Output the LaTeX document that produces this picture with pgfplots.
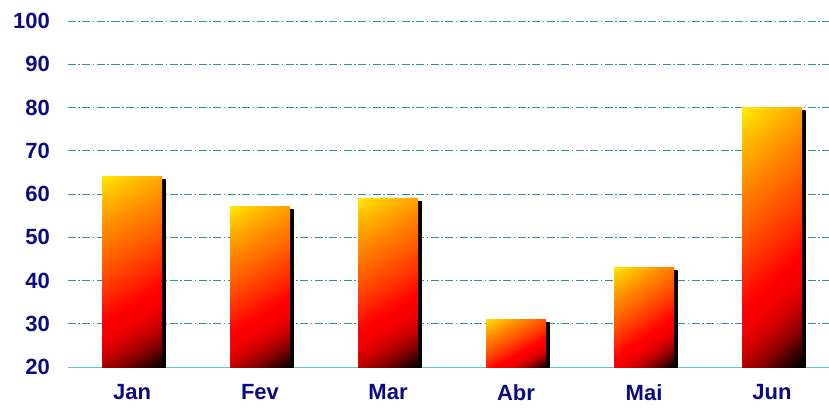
\documentclass[border=0pt]{standalone}
\usepackage{fontspec}
\setmainfont{Liberation Sans}
\usepackage{pgfplots}
\pgfplotsset{compat=1.18}
\usetikzlibrary{shadows}
\definecolor{lblcol}{RGB}{10,10,130}
\definecolor{gridcol}{RGB}{40,150,150}
\definecolor{axcol}{RGB}{92,200,200}
\pgfdeclareverticalshading{barshade}{100bp}{%
  color(0bp)=(black);
  color(15bp)=(black);
  color(18bp)=(rgb,255:red,40;green,0;blue,0);
  color(23bp)=(rgb,255:red,130;green,0;blue,0);
  color(29bp)=(rgb,255:red,200;green,0;blue,0);
  color(34bp)=(rgb,255:red,240;green,0;blue,0);
  color(40bp)=(rgb,255:red,255;green,0;blue,0);
  color(47bp)=(rgb,255:red,255;green,40;blue,0);
  color(57bp)=(rgb,255:red,255;green,90;blue,0);
  color(67bp)=(rgb,255:red,255;green,135;blue,0);
  color(75bp)=(rgb,255:red,255;green,175;blue,0);
  color(81bp)=(rgb,255:red,255;green,210;blue,0);
  color(85bp)=(rgb,255:red,255;green,236;blue,0);
  color(100bp)=(rgb,255:red,255;green,242;blue,0)}
\pgfdeclareverticalshading{blackshade}{100bp}{color(0bp)=(black); color(100bp)=(black)}
\pgfplotsset{
  mybar/.style={ybar, bar width=60pt, bar shift=0pt, draw=none,
    shading=barshade, shading angle=#1,
    drop shadow={shadow xshift=3.5pt, shadow yshift=-3pt, opacity=1,
      fill=black, shading=blackshade}},
}
\begin{document}
\begin{tikzpicture}
\begin{axis}[
  scale only axis,
  width=761pt, height=346pt,
  xmin=-0.5, xmax=5.445,
  ymin=20, ymax=100,
  axis x line*=bottom, axis y line*=left,
  y axis line style={draw=none},
  x axis line style={draw=axcol, line width=1pt, -},
  ytick={20,30,...,100},
  ytick style={draw=none},
  ymajorgrids,
  grid style={draw=gridcol, line width=0.9pt, dash pattern=on 8pt off 2.5pt on 1.5pt off 2.5pt},
  xtick={0,1,2,3,4,5},
  xticklabels={Jan,Fev,Mar,Abr,Mai,Jun},
  xtick style={draw=none},
  extra x ticks={-0.5,0.5,1.5,2.5,3.5,4.5},
  extra x tick labels={},
  extra x tick style={major tick length=8pt, tick align=outside,
    tick style={draw=axcol, line width=1pt}, grid=none},
  /pgf/number format/assume math mode=true,
  ticklabel style={font=\fontsize{22}{26}\selectfont\bfseries, text=lblcol},
  yticklabel style={inner sep=0pt, anchor=east, xshift=-18pt},
  xticklabel style={inner sep=0pt, anchor=north, yshift=-17pt},
  clip=true,
]
\addplot[mybar=30] coordinates {(0,64)};
\addplot[mybar=31] coordinates {(1,57)};
\addplot[mybar=31] coordinates {(2,59)};
\addplot[mybar=29] coordinates {(3,31)};
\addplot[mybar=35] coordinates {(4,43)};
\addplot[mybar=43] coordinates {(5,80)};
\end{axis}
\pgfresetboundingbox
\path (current axis.south west) ++(-68pt,-41pt) rectangle ++(829pt,408pt);
\end{tikzpicture}
\end{document}
